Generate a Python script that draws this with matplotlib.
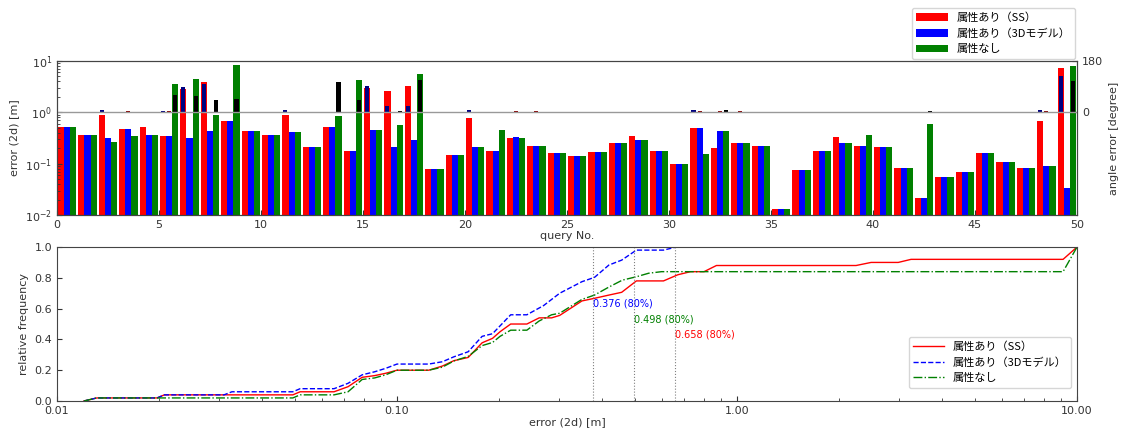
import numpy as np
import matplotlib
matplotlib.use('Agg')
import matplotlib.pyplot as plt
from matplotlib.ticker import FormatStrFormatter

plt.rcParams['font.family'] = ['DejaVu Sans', 'Noto Sans CJK JP']
plt.rcParams['font.size'] = 8
plt.rcParams['xtick.direction'] = 'in'
plt.rcParams['ytick.direction'] = 'in'
plt.rcParams['axes.edgecolor'] = '#444444'
plt.rcParams['xtick.color'] = '#333333'
plt.rcParams['ytick.color'] = '#333333'
plt.rcParams['axes.labelcolor'] = '#333333'

labels = ['属性あり（SS）', '属性あり（3Dモデル）', '属性なし']

# 2d error per query [m]
err_ss = [0.52, 0.37, 0.90, 0.48, 0.51, 0.345, 2.8, 3.9, 0.67, 0.44,
          0.37, 0.90, 0.21, 0.53, 0.18, 3.0, 2.65, 3.3, 0.08, 0.15,
          0.78, 0.18, 0.31, 0.22, 0.165, 0.14, 0.17, 0.25, 0.34, 0.18,
          0.10, 0.50, 0.20, 0.25, 0.22, 0.013, 0.076, 0.18, 0.33, 0.22,
          0.21, 0.082, 0.021, 0.056, 0.070, 0.158, 0.106, 0.082, 0.67, 7.4]
err_3d = [0.52, 0.37, 0.32, 0.48, 0.37, 0.345, 0.31, 0.43, 0.67, 0.44,
          0.37, 0.41, 0.21, 0.53, 0.18, 0.45, 0.21, 0.29, 0.08, 0.15,
          0.21, 0.18, 0.33, 0.22, 0.165, 0.14, 0.17, 0.25, 0.29, 0.18,
          0.10, 0.50, 0.43, 0.25, 0.22, 0.013, 0.076, 0.18, 0.25, 0.22,
          0.21, 0.082, 0.021, 0.056, 0.070, 0.158, 0.106, 0.082, 0.092, 0.034]
err_none = [0.52, 0.37, 0.27, 0.35, 0.37, 3.6, 4.55, 0.90, 8.5, 0.44,
            0.37, 0.41, 0.21, 0.85, 4.35, 0.45, 0.56, 5.6, 0.08, 0.15,
            0.21, 0.46, 0.31, 0.22, 0.165, 0.14, 0.17, 0.25, 0.29, 0.18,
            0.10, 0.155, 0.43, 0.25, 0.22, 0.013, 0.076, 0.18, 0.25, 0.37,
            0.21, 0.082, 0.60, 0.056, 0.070, 0.158, 0.106, 0.082, 0.092, 7.9]

# angle error per query [degree]
ang_a = [2, 2, 8, 2, 2, 6, 89, 101, 2, 2,
         2, 8, 2, 2, 2, 94, 21, 21, 2, 2,
         8, 2, 2, 2, 2, 2, 2, 2, 2, 2,
         2, 8, 2, 2, 2, 0, 0, 0, 0, 0,
         0, 0, 0, 0, 0, 0, 0, 0, 8, 127]
ang_b = [2, 2, 2, 3, 2, 5, 2, 2, 2, 2,
         2, 2, 2, 2, 2, 2, 2, 2, 2, 2,
         2, 2, 3, 3, 2, 2, 2, 2, 2, 2,
         2, 5, 5, 3, 2, 0, 0, 0, 0, 0,
         0, 0, 0, 0, 0, 0, 0, 0, 3, 2]
ang_c = [1, 1, 1, 1, 1, 62, 59, 42, 47, 1,
         1, 1, 1, 105, 45, 1, 5, 115, 1, 1,
         1, 1, 1, 1, 1, 1, 1, 1, 1, 1,
         1, 1, 8, 1, 1, 0, 0, 0, 0, 0,
         0, 0, 3, 0, 0, 0, 0, 0, 1, 109]

# cumulative relative frequency of 2d error
cdf_ss_x = [0.012, 0.0131, 0.0197, 0.0207, 0.0494, 0.0519, 0.0653, 0.0718, 0.079, 0.086,
            0.0926, 0.1, 0.124, 0.136, 0.147, 0.162, 0.178, 0.191, 0.201, 0.216,
            0.241, 0.262, 0.285, 0.301, 0.35, 0.381, 0.42, 0.458, 0.506, 0.608,
            0.67, 0.73, 0.80, 0.87, 2.24, 2.48, 2.98, 3.25, 9.1, 10.0]
cdf_ss_y = [0.0, 0.02, 0.02, 0.04, 0.04, 0.06, 0.06, 0.093, 0.154, 0.165,
            0.18, 0.20, 0.20, 0.227, 0.262, 0.283, 0.378, 0.407, 0.45, 0.50,
            0.50, 0.54, 0.54, 0.556, 0.65, 0.667, 0.688, 0.706, 0.78, 0.78,
            0.82, 0.84, 0.84, 0.88, 0.88, 0.90, 0.90, 0.92, 0.92, 1.0]
cdf_3d_x = [0.012, 0.0131, 0.0197, 0.0207, 0.031, 0.0327, 0.0494, 0.0519, 0.0653, 0.0718,
            0.079, 0.086, 0.0926, 0.1, 0.124, 0.136, 0.147, 0.162, 0.178, 0.191,
            0.216, 0.241, 0.27, 0.301, 0.35, 0.381, 0.42, 0.458, 0.506, 0.608, 0.663]
cdf_3d_y = [0.0, 0.02, 0.02, 0.04, 0.04, 0.06, 0.06, 0.08, 0.08, 0.115,
            0.17, 0.19, 0.212, 0.24, 0.24, 0.255, 0.287, 0.32, 0.42, 0.437,
            0.56, 0.56, 0.62, 0.70, 0.775, 0.803, 0.883, 0.915, 0.98, 0.98, 1.0]
cdf_none_x = [0.012, 0.0131, 0.0494, 0.0519, 0.0653, 0.0718, 0.079, 0.086, 0.0926, 0.1,
              0.124, 0.136, 0.147, 0.162, 0.178, 0.191, 0.201, 0.216, 0.241, 0.262,
              0.285, 0.301, 0.35, 0.381, 0.42, 0.46, 0.506, 0.55, 0.60, 9.1, 10.0]
cdf_none_y = [0.0, 0.02, 0.02, 0.04, 0.04, 0.06, 0.14, 0.15, 0.17, 0.20,
              0.20, 0.22, 0.26, 0.29, 0.36, 0.38, 0.42, 0.46, 0.46, 0.52,
              0.56, 0.57, 0.66, 0.688, 0.74, 0.785, 0.807, 0.83, 0.84, 0.84, 1.0]

# 80% error
p80 = [0.658, 0.376, 0.498]
p80_y = [0.4, 0.6, 0.5]

colors = ['red', 'blue', 'green']
ang_colors = ['navy', 'darkred', 'black']
leg_font = {'family': ['Noto Sans CJK JP', 'DejaVu Sans'], 'size': 8}

fig = plt.figure(figsize=(11.3, 4.34), dpi=100)
ax1 = fig.add_axes([0.0504, 0.5046, 0.9027, 0.3548])
ax3 = fig.add_axes([0.0504, 0.076, 0.9027, 0.3548])

q = np.arange(len(err_ss))
offsets = [0.2, 0.5, 0.8]
bars = []
for err, c, off, lab in zip([err_ss, err_3d, err_none], colors, offsets, labels):
    bars.append(ax1.bar(q + off, err, width=0.3, color=c, label=lab))
ax1.set_yscale('log')
ax1.set_ylim(1e-2, 10)
ax1.set_xlim(0, 50)
ax1.set_xticks(range(0, 51, 5))
ax1.set_xlabel('query No.', labelpad=1)
ax1.set_ylabel('error (2d) [m]')

ax2 = ax1.twinx()
ax2.axhline(0, color='#999999', lw=1)
for ang, c, off in zip([ang_a, ang_b, ang_c], ang_colors, offsets):
    ax2.bar(q + off, ang, width=0.2, color=c)
ax2.set_ylim(-360, 180)
ax2.set_yticks([0, 180])
ax2.set_ylabel('angle error [degree]')

ax1.legend(handles=bars, loc='lower right', bbox_to_anchor=(1.0, 1.0),
           borderaxespad=0.2, handlelength=2.8, prop=leg_font)

ax3.plot(cdf_ss_x, cdf_ss_y, '-', color='red', lw=1, label=labels[0])
ax3.plot(cdf_3d_x, cdf_3d_y, '--', color='blue', lw=1, label=labels[1])
ax3.plot(cdf_none_x, cdf_none_y, '-.', color='green', lw=1, label=labels[2])
for x, y, c in zip(p80, p80_y, colors):
    ax3.axvline(x, color='gray', ls=':', lw=0.8)
    ax3.text(x, y, '%.3f (80%%)' % x, color=c, fontsize=7, va='bottom')
ax3.set_xscale('log')
ax3.set_xlim(0.01, 10)
ax3.set_ylim(0, 1)
ax3.set_xticks([0.01, 0.1, 1, 10])
ax3.xaxis.set_major_formatter(FormatStrFormatter('%.2f'))
ax3.set_xlabel('error (2d) [m]', labelpad=1)
ax3.set_ylabel('relative frequency')
ax3.legend(loc='lower right', bbox_to_anchor=(1.0, 0.05), handlelength=2.8, prop=leg_font)

fig.savefig('out.png', dpi=100)
